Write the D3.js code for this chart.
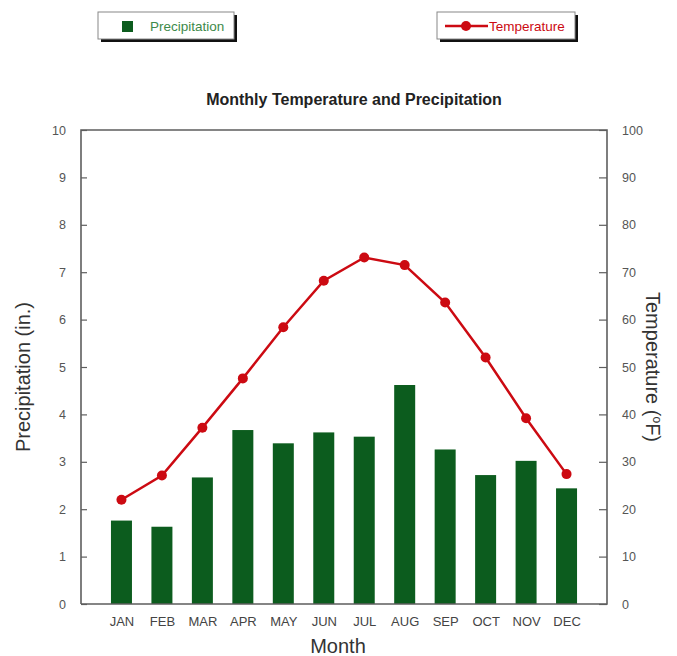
<!DOCTYPE html>
<html>
<head>
<meta charset="utf-8">
<script src="https://cdn.jsdelivr.net/npm/d3@7"></script>
<style>
  body { margin: 0; background: #fff; }
  svg text { font-family: "Liberation Sans", Arial, sans-serif; }
</style>
</head>
<body>
<div id="chart"></div>
<script>
// months along the bottom, and the two series
const months = ["JAN", "FEB", "MAR", "APR", "MAY", "JUN", "JUL", "AUG", "SEP", "OCT", "NOV", "DEC"];
const precipitation = [1.76, 1.63, 2.67, 3.67, 3.39, 3.62, 3.53, 4.62, 3.26, 2.72, 3.02, 2.44];
const temperature = [22.0, 27.1, 37.2, 47.6, 58.4, 68.2, 73.1, 71.5, 63.6, 52.0, 39.2, 27.4];
const precipTicks = [0, 1, 2, 3, 4, 5, 6, 7, 8, 9, 10];
const tempTicks = [0, 10, 20, 30, 40, 50, 60, 70, 80, 90, 100];

const width = 677, height = 656;
const margin = {top: 130, right: 70, bottom: 52, left: 81};
const w = width - margin.left - margin.right;
const h = height - margin.top - margin.bottom;

const green = "#0c5c1e", red = "#cc0a12", axisGray = "#5e5e5e";

const svg = d3.select("#chart").append("svg")
    .attr("width", width)
    .attr("height", height);

const g = svg.append("g").attr("transform", `translate(${margin.left},${margin.top})`);

// months sit at 1..12 on a 0..13 scale, like the original plot
const x = d3.scaleLinear().domain([0, 13]).range([0, w]);
const yP = d3.scaleLinear().domain([0, 10]).range([h, 0]);
const yT = d3.scaleLinear().domain([0, 100]).range([h, 0]);
const barW = 21;

// bars
g.selectAll("rect.bar")
    .data(precipitation)
    .join("rect")
    .attr("class", "bar")
    .attr("x", (d, i) => x(i + 1) - barW / 2)
    .attr("y", d => yP(d))
    .attr("width", barW)
    .attr("height", d => h - yP(d))
    .attr("fill", green);

// temperature line
const line = d3.line()
    .x((d, i) => x(i + 1))
    .y(d => yT(d));

g.append("path")
    .datum(temperature)
    .attr("d", line)
    .attr("fill", "none")
    .attr("stroke", red)
    .attr("stroke-width", 2.5);

g.selectAll("circle.pt")
    .data(temperature)
    .join("circle")
    .attr("class", "pt")
    .attr("cx", (d, i) => x(i + 1))
    .attr("cy", d => yT(d))
    .attr("r", 5)
    .attr("fill", red);

// left axis, ticks pointing inside
const leftAxis = g.append("g")
    .call(d3.axisLeft(yP).tickValues(precipTicks).tickFormat(d3.format("d"))
        .tickSizeInner(-6).tickSizeOuter(0).tickPadding(15));

// right axis
const rightAxis = g.append("g")
    .attr("transform", `translate(${w},0)`)
    .call(d3.axisRight(yT).tickValues(tempTicks).tickFormat(d3.format("d"))
        .tickSizeInner(-8).tickSizeOuter(0).tickPadding(15));

[leftAxis, rightAxis].forEach(a => {
    a.select(".domain").remove();
    a.selectAll("line").attr("stroke", axisGray).attr("stroke-width", 1.2);
    a.selectAll("text").attr("fill", "#555").attr("font-size", 12.5);
});

// bottom axis: labels only
const bottomAxis = g.append("g")
    .attr("transform", `translate(0,${h})`)
    .call(d3.axisBottom(x).tickValues(d3.range(1, 13)).tickFormat(i => months[i - 1])
        .tickSize(0).tickPadding(13));
bottomAxis.select(".domain").remove();
bottomAxis.selectAll("text").attr("fill", "#444").attr("font-size", 13);

// frame: left, top, right, bottom
g.append("path")
    .attr("d", `M0,${h}V0H${w}V${h}H0`)
    .attr("fill", "none")
    .attr("stroke", axisGray)
    .attr("stroke-width", 1.6);

// titles
svg.append("text")
    .attr("x", 354).attr("y", 105)
    .attr("text-anchor", "middle")
    .attr("font-size", 16).attr("font-weight", "bold")
    .attr("fill", "#222")
    .text("Monthly Temperature and Precipitation");

svg.append("text")
    .attr("x", 338).attr("y", 653)
    .attr("text-anchor", "middle")
    .attr("font-size", 20).attr("fill", "#333")
    .text("Month");

svg.append("text")
    .attr("transform", "translate(30,377) rotate(-90)")
    .attr("text-anchor", "middle")
    .attr("font-size", 20).attr("fill", "#333")
    .text("Precipitation (in.)");

const tLabel = svg.append("text")
    .attr("transform", "translate(646,367) rotate(90)")
    .attr("text-anchor", "middle")
    .attr("font-size", 20).attr("fill", "#333");
tLabel.append("tspan").text("Temperature (");
tLabel.append("tspan").attr("font-size", 12).attr("dy", -7).text("o");
tLabel.append("tspan").attr("dy", 7).text("F)");

// legends, boxes with a drop shadow
function legendBox(x0, y0, bw, bh) {
    svg.append("rect")
        .attr("x", x0 + 3).attr("y", y0 + 3)
        .attr("width", bw).attr("height", bh)
        .attr("fill", "#111");
    svg.append("rect")
        .attr("x", x0).attr("y", y0)
        .attr("width", bw).attr("height", bh)
        .attr("fill", "#fff").attr("stroke", "#888").attr("stroke-width", 1);
}

legendBox(98, 12, 136, 27);
svg.append("rect")
    .attr("x", 122).attr("y", 21).attr("width", 11).attr("height", 11)
    .attr("fill", green);
svg.append("text")
    .attr("x", 150).attr("y", 31)
    .attr("font-size", 13.5).attr("fill", "#3d8a4a")
    .text("Precipitation");

legendBox(437, 12, 138, 27);
svg.append("line")
    .attr("x1", 445).attr("x2", 488).attr("y1", 26).attr("y2", 26)
    .attr("stroke", red).attr("stroke-width", 2.5);
svg.append("circle")
    .attr("cx", 466).attr("cy", 26).attr("r", 5)
    .attr("fill", red);
svg.append("text")
    .attr("x", 489).attr("y", 31)
    .attr("font-size", 13.5).attr("fill", red)
    .text("Temperature");
</script>
</body>
</html>
